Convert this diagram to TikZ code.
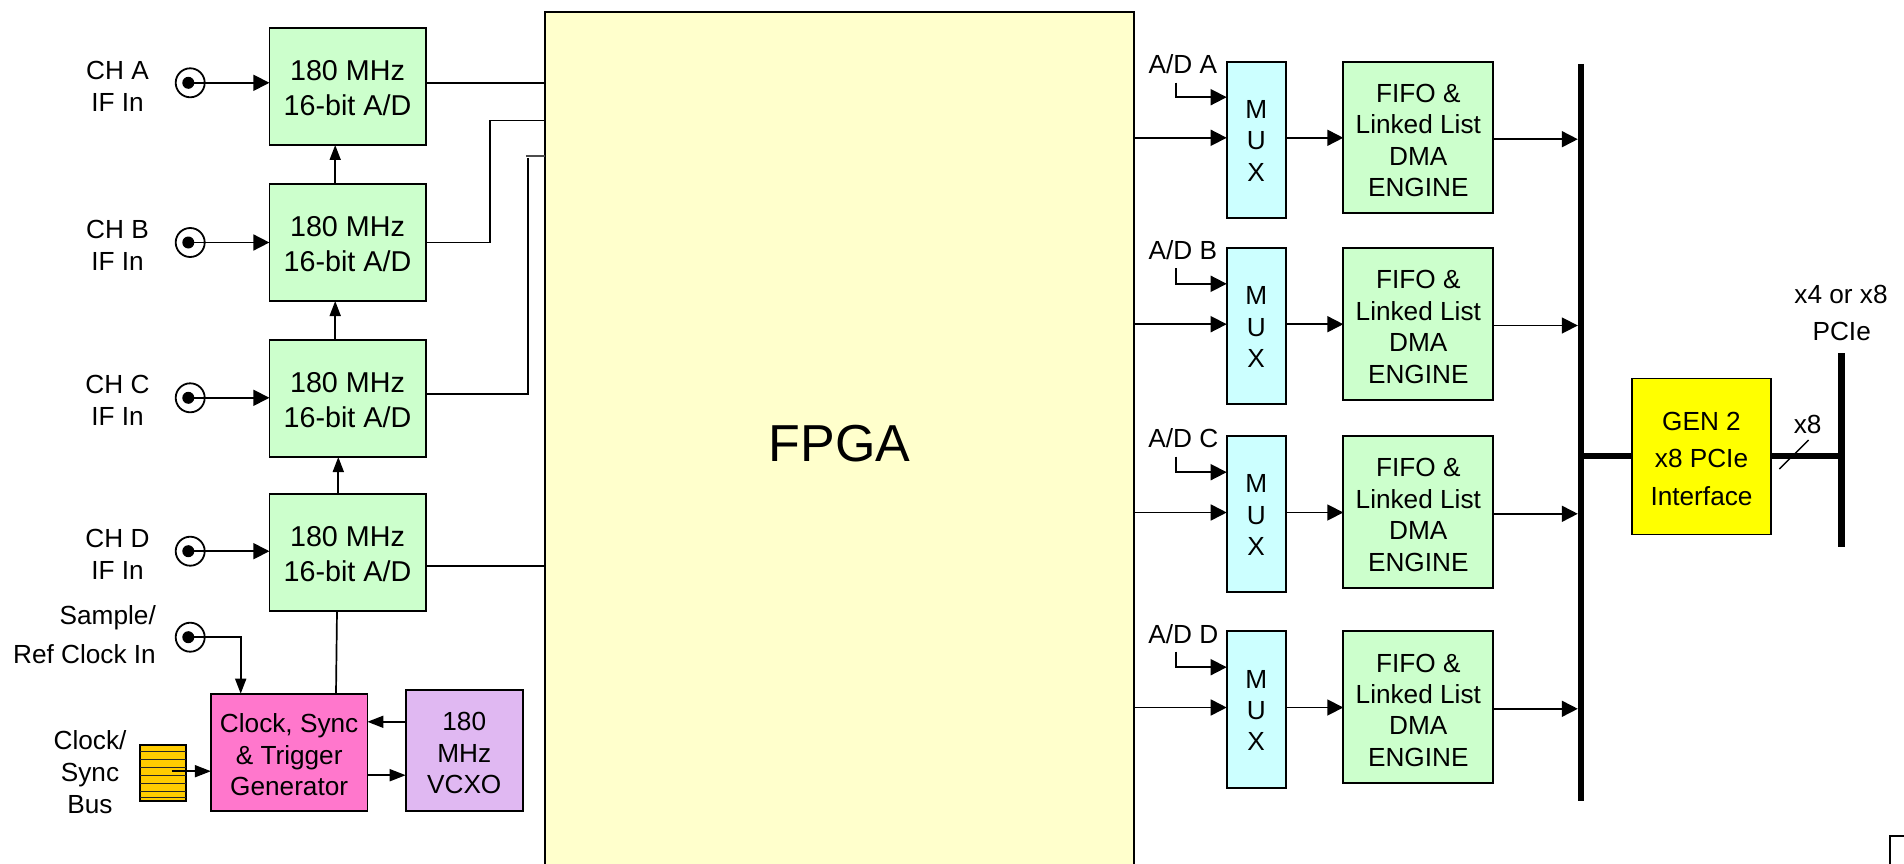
\documentclass[tikz,border=0pt]{standalone}
\usepackage{fontspec}
\setmainfont{Liberation Sans}
\usetikzlibrary{arrows.meta,shapes.geometric}
\definecolor{adcgreen}{HTML}{CCFFCC}
\definecolor{fpgay}{HTML}{FFFFCC}
\definecolor{muxc}{HTML}{CCFFFF}
\definecolor{clkp}{HTML}{FF77CC}
\definecolor{vcxop}{HTML}{E0B8F2}
\definecolor{busy}{HTML}{FFCC00}
\definecolor{geny}{rgb}{1,1,0}
\newcommand{\topst}{}
\tikzset{
 blk/.style={draw=black,line width=1.8pt,inner sep=0pt,outer sep=0pt,align=center},
 top strut/.style={execute at begin node={\def\topst{\rule{0pt}{#1}}}},
 adcbox/.style={blk,fill=adcgreen,font=\fontsize{28.7}{35}\selectfont,top strut=23.7pt},
 clkbox/.style={blk,fill=clkp,font=\fontsize{26.2}{31.7}\selectfont,top strut=24pt},
 vcxobox/.style={blk,fill=vcxop,font=\fontsize{26.2}{31.5}\selectfont,top strut=24.4pt},
 muxbox/.style={blk,fill=muxc,font=\fontsize{26.2}{31.4}\selectfont,top strut=20pt},
 fifobox/.style={blk,fill=adcgreen,font=\fontsize{26.2}{31.4}\selectfont,top strut=24pt},
 genbox/.style={blk,fill=geny,font=\fontsize{26.2}{37.8}\selectfont,top strut=23pt},
 fpgabox/.style={blk,fill=fpgay,font=\fontsize{52}{60}\selectfont,top strut=38.5pt},
 busbox/.style={blk,fill=busy},
 plainbox/.style={blk,fill=white},
 lbl/.style={inner sep=0pt,align=center,font=\fontsize{26.2}{32}\selectfont},
 rlbl/.style={inner sep=0pt,align=center,font=\fontsize{26.2}{32}\selectfont},
 ring/.style={draw=black,circle,line width=1.8pt,minimum size=29pt,inner sep=0pt,outer sep=0pt},
 pin/.style={fill=black,circle,minimum size=12pt,inner sep=0pt,outer sep=0pt},
 wire/.style={line width=1.7pt,draw=black},
 arrw/.style={wire,-{Triangle[length=16pt,width=16pt]}},
 arrn/.style={wire,-{Triangle[length=15pt,width=11pt]}},
 arrm/.style={wire,-{Triangle[length=16pt,width=12pt]}},
 thick bus/.style={line width=6.4pt,draw=black},
 tick/.style={line width=1.4pt,draw=black},
 stripe/.style={line width=1.3pt,draw=black!85},
}
\newcommand{\bx}[7]{% name x0 y0 x1 y1 style text
 \pgfmathsetmacro{\mycx}{(#2+#4)/2}\pgfmathsetmacro{\mycy}{(#3+#5)/2}%
 \pgfmathsetmacro{\myw}{#4-#2}\pgfmathsetmacro{\myh}{#5-#3}%
 \node[#6,minimum width=\myw pt,minimum height=\myh pt] (#1) at (\mycx,\mycy) {\topst #7};}
\begin{document}
\begin{tikzpicture}[x=1pt,y=-1pt]
\useasboundingbox (0,0) rectangle (1904,864);
\clip (0,0) rectangle (1904,864);
\fill[white] (0,0) rectangle (1904,864);
% boxes
\bx{fpga}{545}{11.7}{1134}{874}{fpgabox}{FPGA}
\bx{adcA}{269.4}{28}{425.6}{145}{adcbox}{180 MHz\\16-bit A/D}
\bx{adcB}{269.4}{184}{425.6}{301}{adcbox}{180 MHz\\16-bit A/D}
\bx{adcC}{269.4}{340}{425.6}{457}{adcbox}{180 MHz\\16-bit A/D}
\bx{adcD}{269.4}{493.7}{425.6}{610.7}{adcbox}{180 MHz\\16-bit A/D}
\bx{clk}{210.9}{693.7}{367.4}{810.7}{clkbox}{Clock, Sync\\\& Trigger\\Generator}
\bx{vcxo}{405.7}{689.7}{522.8}{810.7}{vcxobox}{180\\MHz\\VCXO}
\bx{bus}{140}{745.3}{186}{801}{busbox}{}
\foreach \yy in {751.5,759.5,767.5,775.5,783.5,791.5,797.5}
  \draw[stripe] (bus.west |- 0,\yy) -- (bus.east |- 0,\yy);
\bx{muxA}{1226.7}{61.7}{1285.7}{217.7}{muxbox}{M\\U\\X}
\bx{muxB}{1226.7}{248.3}{1285.7}{404}{muxbox}{M\\U\\X}
\bx{muxC}{1226.7}{436}{1285.7}{592.3}{muxbox}{M\\U\\X}
\bx{muxD}{1226.7}{631.3}{1285.7}{787.7}{muxbox}{M\\U\\X}
\bx{fifoA}{1343.3}{61.7}{1493.3}{213.3}{fifobox}{FIFO \&\\Linked List\\DMA\\ENGINE}
\bx{fifoB}{1343.3}{248.3}{1493.3}{400}{fifobox}{FIFO \&\\Linked List\\DMA\\ENGINE}
\bx{fifoC}{1343.3}{436}{1493.3}{588.3}{fifobox}{FIFO \&\\Linked List\\DMA\\ENGINE}
\bx{fifoD}{1343.3}{631.3}{1493.3}{783.3}{fifobox}{FIFO \&\\Linked List\\DMA\\ENGINE}
\bx{gen}{1632}{378.5}{1771}{534.5}{genbox}{GEN 2\\x8 PCIe\\Interface}
\bx{corner}{1890}{836}{1960}{900}{plainbox}{}
% buses
\coordinate (mbT) at (1581,64);
\coordinate (mbB) at (1581,801);
\coordinate (rbT) at (1841.3,353);
\coordinate (rbB) at (1841.3,547);
\draw[thick bus] (mbT) -- (mbB);
\draw[thick bus] (rbT) -- (rbB);
\draw[thick bus] (mbT |- 0,456) -- (gen.west |- 0,456);
\draw[thick bus] (gen.east |- 0,456) -- (rbT |- 0,456);
\coordinate (tickA) at (1779.3,469);
\coordinate (tickB) at (1808.7,440);
\draw[tick] (tickA) -- (tickB);
% input connectors
\node[ring] (jA) at (190.2,82.8) {};  \node[pin] (pA) at (188.3,82.8) {};
\node[ring] (jB) at (190.2,242.5) {};   \node[pin] (pB) at (188.3,242.5) {};
\node[ring] (jC) at (190.2,397.8) {}; \node[pin] (pC) at (188.3,397.8) {};
\node[ring] (jD) at (190.2,551.2) {}; \node[pin] (pD) at (188.3,551.2) {};
\node[ring] (jS) at (190.2,637.2) {}; \node[pin] (pS) at (188.3,637.2) {};
\draw[arrw] (pA.center) -- (adcA.west |- pA);
\draw[arrw] (pB.center) -- (adcB.west |- pB);
\draw[arrw] (pC.center) -- (adcC.west |- pC);
\draw[arrw] (pD.center) -- (adcD.west |- pD);
\coordinate (sX) at (240.7,693.7);
\draw[arrn] (pS.center) -| (sX);
% A/D stack
\draw[arrn] (adcB.north -| 335.2,0) -- (adcA.south -| 335.2,0);
\draw[arrn] (adcC.north -| 335.2,0) -- (adcB.south -| 335.2,0);
\draw[arrn] (adcD.north -| 338.3,0) -- (adcC.south -| 338.3,0);
\draw[wire] (clk.north -| 336,0) -- (adcD.south -| 337,0);
% A/D to FPGA
\draw[wire] (adcA.east |- 0,83.2) -- (fpga.west |- 0,83.2);
\draw[wire] (adcB.east |- 0,242.5) -- (489.9,242.5) -- (489.9,120.5) -- (fpga.west |- 0,120.5);
\draw[wire] (adcC.east |- 0,393.8) -- (527.7,393.8) -- (527.7,158);
\coordinate (cStub) at (525.8,155.8);
\draw[wire,draw=black!70] (cStub) -- (fpga.west |- cStub);
\draw[wire] (adcD.east |- 0,565.8) -- (fpga.west |- 0,565.8);
% clock section
\coordinate (busOut) at (171.5,771.2);
\draw[arrm] (busOut) -- (clk.west |- busOut);
\draw[arrm] (vcxo.west |- 0,721.8) -- (clk.east |- 0,721.8);
\draw[arrm] (clk.east |- 0,775.2) -- (vcxo.west |- 0,775.2);
% MUX section
\foreach \mm/\ya/\yb/\yc/\yd in {A/82.7/97.2/137.8/139.2,B/268.3/283.8/324.2/325.5,C/456.7/472.2/512.5/513.8,D/651.7/667.2/707.5/708.8}{
  \coordinate (t\mm) at (1176,\ya);
  \draw[arrw] (t\mm) |- (mux\mm.west |- 0,\yb);
  \draw[arrw] (fpga.east |- 0,\yc) -- (mux\mm.west |- 0,\yc);
  \draw[arrw] (mux\mm.east |- 0,\yc) -- (fifo\mm.west |- 0,\yc);
  \draw[arrw] (fifo\mm.east |- 0,\yd) -- (1577.8,\yd);
}
% labels
\node[lbl] (lA) at (117.5,86.5) {CH A\\IF In};
\node[lbl] (lB) at (117.5,245.2) {CH B\\IF In};
\node[lbl] (lC) at (117.5,400.8) {CH C\\IF In};
\node[lbl] (lD) at (117.5,554.5) {CH D\\IF In};
\node[lbl,anchor=east] (lS1) at (156,618) {Sample/};
\node[lbl,anchor=east] (lS2) at (156,654.5) {Ref Clock In};
\node[lbl] (lK) at (90,772.3) {Clock/\\Sync\\Bus};
\node[rlbl] (lmA) at (1182.8,64.3) {A/D A};
\node[rlbl] (lmB) at (1182.8,250) {A/D B};
\node[rlbl] (lmC) at (1183.3,438.3) {A/D C};
\node[rlbl] (lmD) at (1183.3,633.7) {A/D D};
\node[rlbl] (px1) at (1841,294) {x4 or x8};
\node[rlbl] (px2) at (1841.7,331) {PCIe};
\node[rlbl] (px3) at (1807.7,424.4) {x8};
\end{tikzpicture}
\end{document}
